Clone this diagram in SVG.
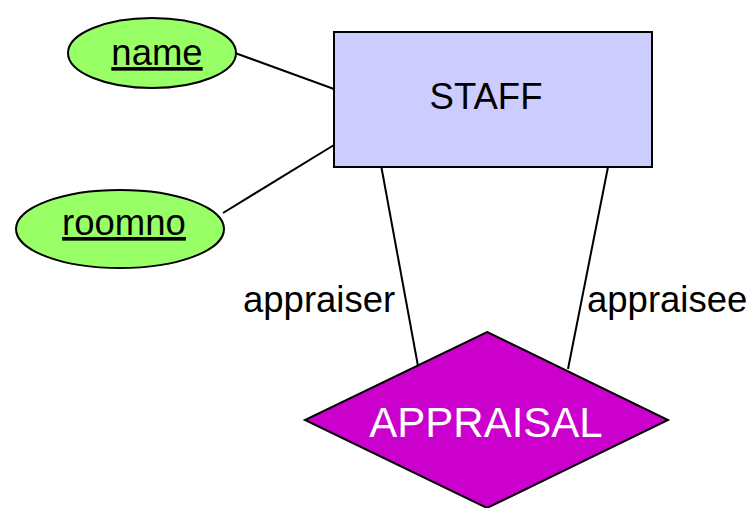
<svg xmlns="http://www.w3.org/2000/svg" width="751" height="508" viewBox="0 0 751 508">
<style>
.t{font-family:"Liberation Sans",Arial,sans-serif;fill:#000;font-size:36.5px}
.attr{fill:#99FF66;stroke:#000;stroke-width:2}
.link{stroke:#000;stroke-width:2;fill:none}
</style>
<rect width="751" height="508" fill="#fff"/>
<g id="connectors">
<line class="link" x1="235" y1="53" x2="334" y2="89"/>
<line class="link" x1="223" y1="213" x2="334" y2="145"/>
<line class="link" x1="381" y1="165" x2="418" y2="366"/>
<line class="link" x1="608" y1="167" x2="568" y2="369"/>
<text class="t" x="243" y="312">appraiser</text>
<text class="t" x="587" y="312">appraisee</text>
</g>
<g id="staff">
<rect x="334" y="32" width="318" height="135" fill="#CCCCFF" stroke="#000" stroke-width="2"/>
<text class="t" x="486" y="109" text-anchor="middle">STAFF</text>
</g>
<g id="name">
<ellipse class="attr" cx="152" cy="53" rx="84" ry="35"/>
<text class="t" x="157" y="65" text-anchor="middle" text-decoration="underline">name</text>
</g>
<g id="roomno">
<ellipse class="attr" cx="120" cy="229" rx="104" ry="39"/>
<text class="t" x="124" y="235" text-anchor="middle" text-decoration="underline">roomno</text>
</g>
<g id="appraisal">
<polygon points="487,332 668,420 487,508 305,420" fill="#CC00CC" stroke="#000" stroke-width="2"/>
<text x="486" y="437" font-size="42" text-anchor="middle" font-family="Liberation Sans,Arial,sans-serif" fill="#fff">APPRAISAL</text>
</g>
</svg>
